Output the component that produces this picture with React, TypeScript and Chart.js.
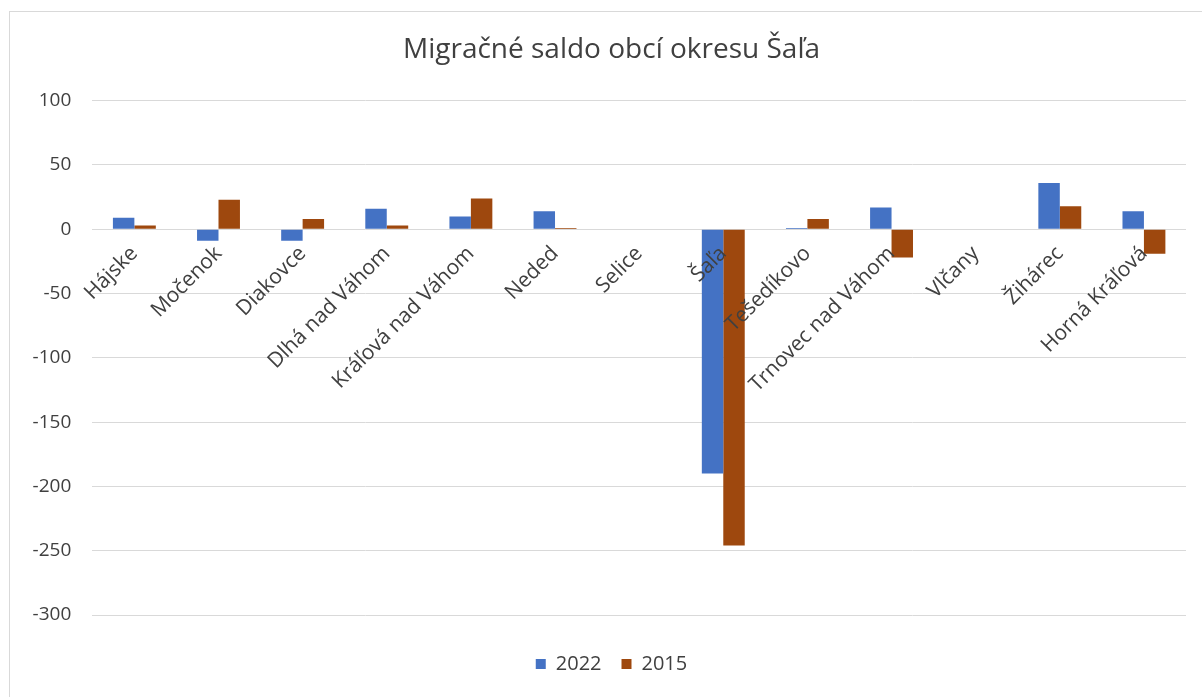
import React, { useEffect, useRef } from 'react';
import { Chart, registerables } from 'chart.js';

Chart.register(...registerables);

const categories = [
  'Hájske',
  'Močenok',
  'Diakovce',
  'Dlhá nad Váhom',
  'Kráľová nad Váhom',
  'Neded',
  'Selice',
  'Šaľa',
  'Tešedíkovo',
  'Trnovec nad Váhom',
  'Vlčany',
  'Žihárec',
  'Horná Kráľová',
];
const values2022 = [9, -9, -9, 16, 10, 14, 0, -190, 1, 17, 0, 36, 14];
const values2015 = [3, 23, 8, 3, 24, 1, 0, -246, 8, -22, 0, 18, -19];
const seriesLabels = ['2022', '2015'];
const yMin = -300;
const yMax = 100;
const yStep = 50;
const titleText = 'Migračné saldo obcí okresu Šaľa';

const FONT = 'Open Sans';
const TEXT = '#404040';

export default function App() {
  const ref = useRef<HTMLCanvasElement>(null);

  useEffect(() => {
    const chart = new Chart(ref.current as HTMLCanvasElement, {
      type: 'bar',
      data: {
        labels: categories,
        datasets: [
          { label: seriesLabels[0], data: values2022, backgroundColor: '#4472C4' },
          { label: seriesLabels[1], data: values2015, backgroundColor: '#9E480E' },
        ],
      },
      options: {
        animation: false,
        responsive: false,
        maintainAspectRatio: false,
        layout: { padding: { left: 0, right: 0, top: 0, bottom: 13 } },
        datasets: { bar: { categoryPercentage: 0.51, barPercentage: 1 } },
        plugins: {
          title: {
            display: true,
            text: titleText,
            color: TEXT,
            font: { family: FONT, size: 28, weight: 'normal' },
            padding: { top: 21.4, bottom: 33.7 },
          },
          legend: {
            position: 'bottom',
            title: {
              display: true,
              text: ' ',
              font: { family: FONT, size: 1 },
              padding: { top: 17.8, bottom: 0 },
            },
            labels: {
              boxWidth: 10,
              boxHeight: 10,
              padding: 20,
              color: TEXT,
              font: { family: FONT, size: 20 },
            },
          },
          tooltip: { enabled: false },
        },
        scales: {
          x: {
            position: { y: 0 } as any,
            grid: { display: false },
            border: { display: false },
            ticks: {
              z: 1,
              autoSkip: false,
              maxRotation: 45,
              minRotation: 45,
              padding: 4,
              color: TEXT,
              font: { family: FONT, size: 21 },
            },
          },
          y: {
            min: yMin,
            max: yMax,
            grid: { color: '#d9d9d9', lineWidth: 1, drawTicks: false },
            border: { display: false },
            ticks: {
              stepSize: yStep,
              padding: 21,
              color: TEXT,
              font: { family: FONT, size: 19 },
              callback: (v: any) => String(v),
            },
            afterFit: (s: any) => {
              s.width = 82.3;
            },
          },
          yRightSpace: {
            position: 'right',
            grid: { display: false },
            border: { display: false },
            ticks: { display: false },
            afterFit: (s: any) => {
              s.width = 27;
            },
          },
        },
      },
    });
    return () => chart.destroy();
  }, []);

  return (
    <div
      style={{
        position: 'absolute',
        left: 0,
        top: 0,
        width: 1202,
        height: 697,
        overflow: 'hidden',
        background: '#ffffff',
      }}
    >
      <div
        style={{
          position: 'absolute',
          left: 9,
          top: 11,
          width: 1260,
          height: 740,
          border: '1px solid #d9d9d9',
          boxSizing: 'border-box',
        }}
      />
      <canvas
        ref={ref}
        width={1203}
        height={685}
        style={{ position: 'absolute', left: 10, top: 12, width: 1203, height: 685 }}
      />
    </div>
  );
}
